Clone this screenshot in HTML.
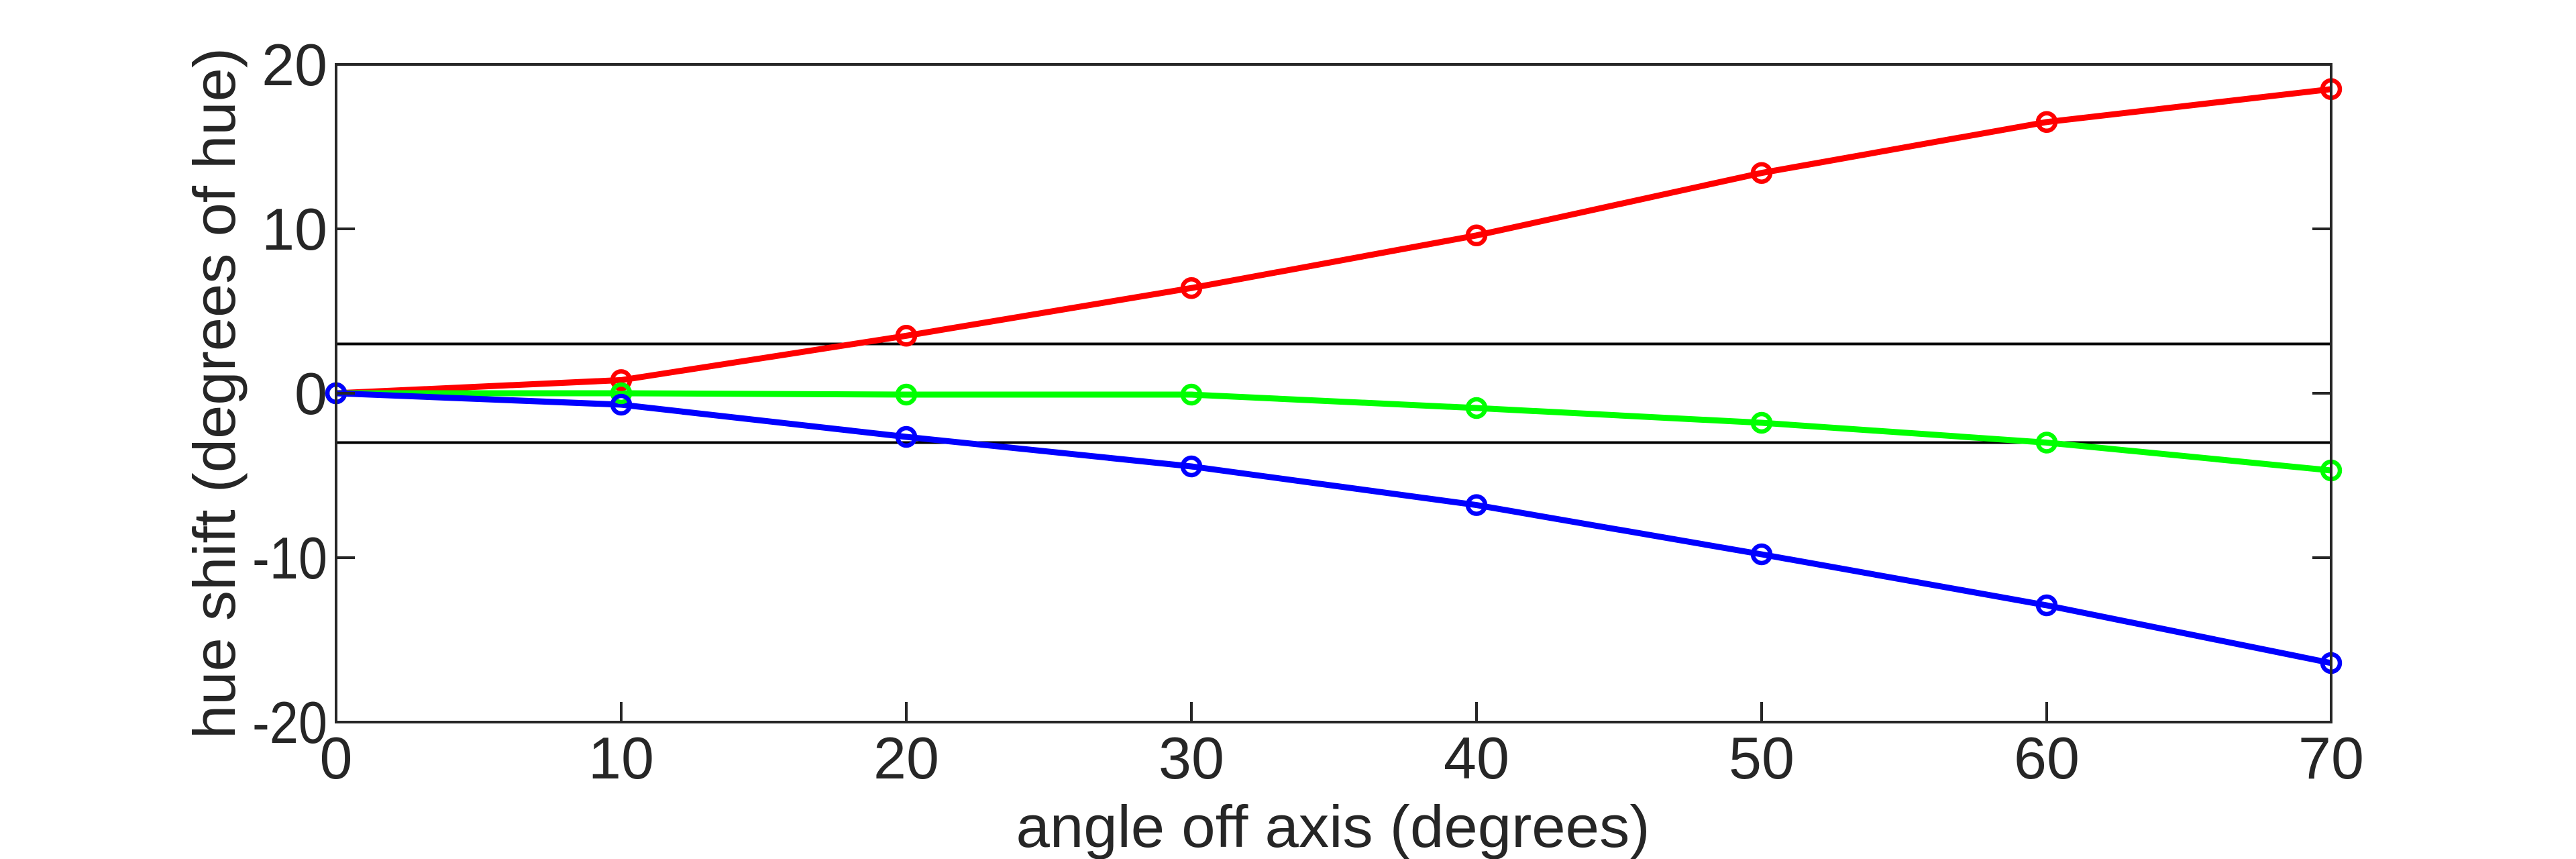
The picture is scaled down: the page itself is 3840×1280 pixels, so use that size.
<!DOCTYPE html>
<html><head><meta charset="utf-8"><style>html,body{margin:0;padding:0;background:#fff;}svg{display:block}</style></head>
<body>
<svg width="3840" height="1280" viewBox="0 0 3840 1280" xmlns="http://www.w3.org/2000/svg" font-family="'Liberation Sans', Arial, sans-serif">
<rect width="3840" height="1280" fill="#fff"/>
<line x1="501" y1="512.5" x2="3475" y2="512.5" stroke="#000" stroke-width="4"/>
<line x1="501" y1="659.5" x2="3475" y2="659.5" stroke="#000" stroke-width="4"/>
<g fill="none" stroke-width="9" stroke-linejoin="round">
<polyline stroke="#ff0000" points="501,586 926,566.4 1351,500.3 1776,429.2 2201,350.8 2626,257.7 3051,181.8 3475,132.8"/>
<polyline stroke="#00ff00" points="501,586 926,586 1351,588 1776,588 2201,608 2626,630 3051,659.5 3475,701"/>
<polyline stroke="#0000ff" points="501,586 926,603 1351,651 1776,695 2201,752.6 2626,826 3051,902 3475,988"/>
</g>
<g fill="none" stroke-width="6.5">
<g stroke="#ff0000"><circle cx="926" cy="566.4" r="13"/><circle cx="1351" cy="500.3" r="13"/><circle cx="1776" cy="429.2" r="13"/><circle cx="2201" cy="350.8" r="13"/><circle cx="2626" cy="257.7" r="13"/><circle cx="3051" cy="181.8" r="13"/><circle cx="3475" cy="132.8" r="13"/><circle cx="501" cy="586" r="13"/></g>
<g stroke="#00ff00"><circle cx="501" cy="586" r="13"/><circle cx="926" cy="586" r="13"/><circle cx="1351" cy="588" r="13"/><circle cx="1776" cy="588" r="13"/><circle cx="2201" cy="608" r="13"/><circle cx="2626" cy="630" r="13"/><circle cx="3051" cy="659.5" r="13"/><circle cx="3475" cy="701" r="13"/></g>
<g stroke="#0000ff"><circle cx="501" cy="586" r="13"/><circle cx="926" cy="603" r="13"/><circle cx="1351" cy="651" r="13"/><circle cx="1776" cy="695" r="13"/><circle cx="2201" cy="752.6" r="13"/><circle cx="2626" cy="826" r="13"/><circle cx="3051" cy="902" r="13"/><circle cx="3475" cy="988" r="13"/></g>
</g>
<rect x="501" y="96" width="2974" height="980" fill="none" stroke="#262626" stroke-width="4"/>
<g stroke="#262626" stroke-width="4">
<line x1="926" y1="1076" x2="926" y2="1046"/><line x1="1351" y1="1076" x2="1351" y2="1046"/><line x1="1776" y1="1076" x2="1776" y2="1046"/><line x1="2201" y1="1076" x2="2201" y2="1046"/><line x1="2626" y1="1076" x2="2626" y2="1046"/><line x1="3051" y1="1076" x2="3051" y2="1046"/>
<line x1="501" y1="341" x2="529" y2="341"/><line x1="501" y1="586" x2="529" y2="586"/><line x1="501" y1="831" x2="529" y2="831"/>
<line x1="3475" y1="341" x2="3447" y2="341"/><line x1="3475" y1="586" x2="3447" y2="586"/><line x1="3475" y1="831" x2="3447" y2="831"/>
</g>
<g fill="#262626" font-size="88">
<g text-anchor="middle">
<text x="501" y="1160">0</text><text x="926" y="1160">10</text><text x="1351" y="1160">20</text><text x="1776" y="1160">30</text><text x="2201" y="1160">40</text><text x="2626" y="1160">50</text><text x="3051" y="1160">60</text><text x="3475" y="1160">70</text>
</g>
<g text-anchor="end">
<text x="488" y="127">20</text><text x="488" y="372">10</text><text x="488" y="617">0</text><text x="488" y="862" textLength="112" lengthAdjust="spacingAndGlyphs">-10</text><text x="488" y="1107" textLength="112" lengthAdjust="spacingAndGlyphs">-20</text>
</g>
<text x="1987" y="1262" text-anchor="middle" textLength="945" lengthAdjust="spacingAndGlyphs">angle off axis (degrees)</text>
<text transform="translate(350,586) rotate(-90)" text-anchor="middle" textLength="1030" lengthAdjust="spacingAndGlyphs">hue shift (degrees of hue)</text>
</g>
</svg>
</body></html>
